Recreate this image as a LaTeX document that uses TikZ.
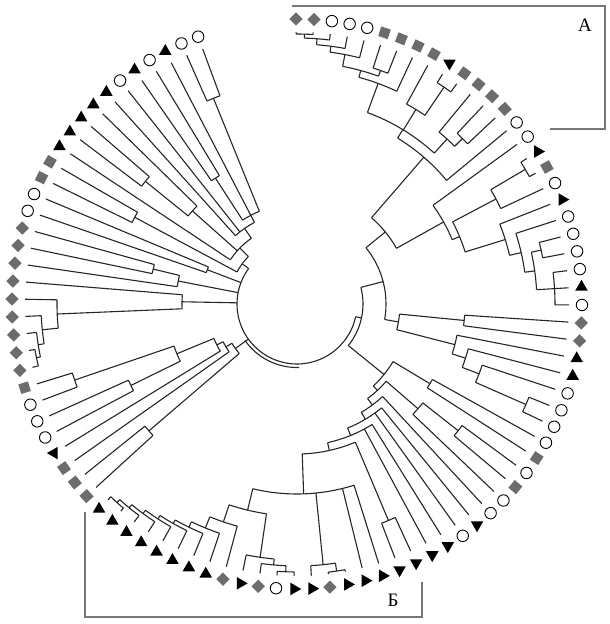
\documentclass[tikz,border=0pt]{standalone}
\usepackage{fontspec}
\setmainfont{Liberation Serif}
\usetikzlibrary{shapes.geometric}
\definecolor{symgray}{HTML}{6c6c6c}
\definecolor{linec}{HTML}{262626}
\definecolor{framec}{HTML}{777777}
\tikzset{
  br/.style={draw=linec, line width=1.1pt},
  frm/.style={draw=framec, line width=1.2pt},
  symD/.style={diamond, fill=symgray, minimum size=13.5pt, inner sep=0pt},
  symS/.style={rectangle, fill=symgray, minimum size=10pt, inner sep=0pt},
  symO/.style={circle, draw=black, fill=white, line width=0.9pt, minimum size=11.5pt, inner sep=0pt},
  symT/.style={regular polygon, regular polygon sides=3, fill=black, minimum size=14.5pt, inner sep=0pt},
  lab/.style={font=\fontsize{19pt}{22pt}\selectfont, inner sep=0pt}
}
\newcommand\setleaf[2]{%
  \pgfmathsetmacro\tmpang{90.2-3.616*(#2-1)}%
  \expandafter\xdef\csname dA#1\endcsname{\tmpang}%
  \expandafter\xdef\csname dR#1\endcsname{272}%
}
\newcommand\clade[3]{%
  \xdef\cmax{-999}\xdef\cmin{999}%
  \foreach \cc in {#3}{%
    \edef\cA{\csname dA\cc\endcsname}%
    \edef\cRr{\csname dR\cc\endcsname}%
    \draw[br] (\cA:\cRr pt) -- (\cA:#2pt);
    \pgfmathsetmacro\tmpv{max(\cmax,\cA)}\xdef\cmax{\tmpv}%
    \pgfmathsetmacro\tmpv{min(\cmin,\cA)}\xdef\cmin{\tmpv}%
  }%
  \draw[br] (\cmax:#2pt) arc[start angle=\cmax, end angle=\cmin, radius=#2pt];
  \pgfmathsetmacro\tmpv{(\cmax+\cmin)/2}%
  \expandafter\xdef\csname dA#1\endcsname{\tmpv}%
  \expandafter\xdef\csname dR#1\endcsname{#2}%
}
\begin{document}
\begin{tikzpicture}[x=1pt,y=1pt]
\useasboundingbox (-297,-320) rectangle (313,304);
\foreach \i in {1,...,95}{\setleaf{\i}{\i}}
% ---- clade A (top)
\clade{a1}{270}{1,2}
\clade{a2}{266}{a1,3}
\clade{a3}{260}{a2,4}
\clade{a4}{254}{a3,5}
\clade{a5}{248}{6,7}
\clade{a6}{242}{a4,a5}
\clade{a7}{235}{a6,8}
\clade{a8}{262}{10,11}
\clade{a9}{228}{9,a8}
\clade{a10}{234}{13,14}
\clade{a11}{223}{12,a10}
\clade{a12}{204}{a7,a9,a11}
\clade{A0}{194}{a12,15}
% ---- right upper
\clade{g1}{265}{17,18}
\clade{g2}{225}{g1,19}
\clade{g3}{250}{22,23}
\clade{g4}{258}{24,25,26}
\clade{g5}{240}{g3,g4}
\clade{g6}{230}{21,g5}
\clade{g7}{218}{20,g6}
\clade{g8}{176}{g2,g7}
\clade{g9}{168}{16,g8}
\clade{AR}{114}{A0,g9}
% ---- right middle
\clade{h1}{168}{27,28}
\clade{h2}{250}{32,33}
\clade{h3}{195}{31,h2}
\clade{h4}{177}{30,h3}
\clade{h5}{163}{29,h4}
\clade{RM}{103}{h1,h5}
\clade{RT}{89}{AR,RM}
% ---- lower right
\clade{c1}{155}{34,35}
\clade{c2}{205}{36,37}
\clade{c3}{160}{c2,38}
% ---- bottom (B)
\clade{t1}{268}{62,63}
\clade{t2}{264}{61,t1}
\clade{t3}{260}{60,t2}
\clade{t4}{256}{59,t3}
\clade{t5}{252}{58,t4}
\clade{t6}{248}{57,t5}
\clade{t7}{242}{56,t6}
\clade{s1}{268}{51,52}
\clade{s2}{262}{53,s1}
\clade{s3}{256}{54,s2}
\clade{s4}{230}{t7,55}
\clade{s5}{212}{s4,s3}
\clade{s6a}{270}{48,49}
\clade{s6}{262}{50,s6a}
\clade{Bc}{190}{s5,s6,47,46}
\clade{e3}{235}{44,45}
\clade{d5}{150}{e3,Bc}
\clade{d4}{142}{42,43,d5}
\clade{d3}{134}{40,41,d4}
\clade{d2}{126}{39,d3}
\clade{d1}{118}{c3,d2}
\clade{LR}{112}{c1,d1}
\clade{R1}{66}{RT,LR}
% ---- lower left
\clade{bb1}{195}{64,65}
\clade{bb2}{185}{68,69}
\clade{bb3}{235}{70,71}
\clade{bb4}{130}{bb2,bb3}
\clade{bb5}{90}{67,bb4}
\clade{bb6}{83}{66,bb5}
\clade{bb7}{76}{bb1,bb6}
% ---- left
\clade{k1}{266}{72,73}
\clade{k2}{262}{k1,74}
\clade{k3}{256}{75,k2}
\clade{k4}{240}{76,k3}
\clade{k5}{115}{77,k4}
\clade{m1}{148}{79,80}
\clade{m2}{121}{78,m1}
\clade{n1}{96}{81,82}
% ---- upper left
\clade{u1}{222}{94,95}
\clade{u2}{150}{91,92}
\clade{u3}{195}{86,87}
\clade{u4}{140}{u3,88}
\clade{u5}{100}{u2,93,u1}
\clade{u6}{92}{89,90,u5}
\clade{u7}{80}{85,u4,u6}
\clade{u8}{184}{83,84}
\clade{u9}{68}{u8,u7}
\clade{root}{60}{R1,bb7,k5,m2,n1,u9}
\draw[br] (-88:63.5pt) arc[start angle=-88, end angle=-145, radius=63.5pt];
% ---- leaf symbols
\foreach \i/\ty/\ro in {1/D/0,2/D/0,3/O/0,4/O/0,5/O/0,6/S/72,7/S/68,8/S/65,9/S/61,10/T/180,
 11/S/54,12/S/50,13/S/47,14/S/43,15/O/0,16/O/0,17/T/-90,18/S/29,19/O/0,20/T/-90,
 21/O/0,22/O/0,23/O/0,24/O/0,25/T/0,26/O/0,27/D/0,28/D/0,29/T/0,30/T/0,
 31/O/0,32/O/0,33/O/0,34/O/0,35/S/-33,36/O/0,37/S/-40,38/O/0,39/O/0,40/T/180,
 41/O/0,42/T/180,43/T/180,44/T/180,45/T/180,46/T/-90,47/T/-90,48/T/-90,49/D/0,50/T/-90,
 51/T/-90,52/O/0,53/D/0,54/T/-90,55/D/0,56/T/0,57/T/0,58/T/0,59/T/0,60/T/0,
 61/T/0,62/T/0,63/T/0,64/S/-138,65/S/-141,66/S/-145,67/T/90,68/O/0,69/O/0,70/O/0,
 71/S/-163,72/D/0,73/D/0,74/D/0,75/D/0,76/D/0,77/D/0,78/D/0,79/D/0,80/D/0,
 81/O/0,82/O/0,83/S/-206,84/S/-210,85/T/0,86/T/0,87/T/0,88/T/0,89/T/0,90/O/0,
 91/T/0,92/O/0,93/T/0,94/O/0,95/O/0}{
  \pgfmathsetmacro\ang{90.2-3.616*(\i-1)}
  \node[sym\ty, rotate=\ro] (l\i) at (\ang:285pt) {};
}
% ---- frames and labels
\draw[frm] (-5,298) -- (308,298) -- (308,175) -- (253,175);
\draw[frm] (-212,-208) -- (-212,-313) -- (125,-313) -- (125,-278);
\node[lab] (labA) at (288,279) {A};
\node[lab] (labB) at (96,-296) {Б};
\end{tikzpicture}
\end{document}
